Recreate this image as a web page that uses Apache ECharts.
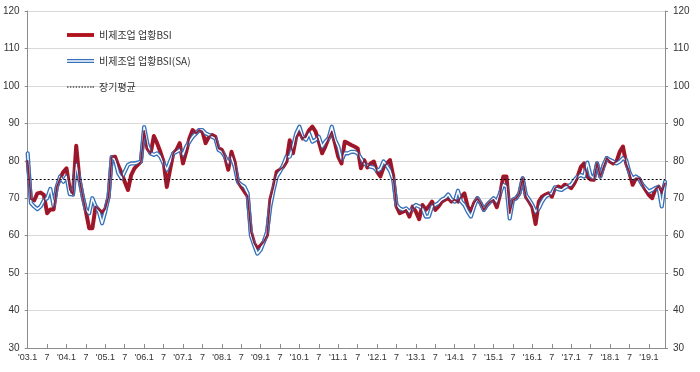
<!DOCTYPE html>
<html>
<head>
<meta charset="utf-8">
<script src="https://cdn.jsdelivr.net/npm/echarts@6/dist/echarts.min.js"></script>
<style>
html,body{margin:0;padding:0;background:#fff;}
#chart{width:700px;height:372px;}
</style>
</head>
<body>
<div id="chart"></div>
<script>
// ---- data (monthly, 2003.1 - 2019.6) ----
const startYear = 2003;
const monthCount = 198;
const seriesNames = ['비제조업 업황BSI', '비제조업 업황BSI(SA)', '장기평균'];
const longTermAvg = 75;

const bsi = [
  80, 69.7, 69.4, 71.3, 71.5, 70.9, 66, 67, 67, 73, 75.3, 77,
  78, 72.4, 71, 84, 75, 70.5, 66.5, 62, 62, 67.8, 66.9, 66,
  67.1, 70.4, 81, 81.1, 78.7, 76.7, 74.4, 72.2, 76.2, 78, 78.9, 79.8,
  88, 83.3, 82, 86.6, 84.7, 82.4, 79.8, 73, 77.6, 82, 82.9, 84.7,
  79.3, 82.4, 86, 88.2, 87.3, 88.2, 87.8, 84.7, 86.4, 86.9, 86.4, 83.3,
  82.9, 81.1, 77.6, 82.4, 79.6, 74.4, 73.1, 71.8, 70.6, 61, 58, 56.5,
  57.3, 58.4, 60.2, 69.6, 73.1, 77.1, 77.6, 78.4, 79.8, 85.5, 82, 86.4,
  87.8, 86, 86.4, 88.2, 89.1, 87.8, 85.1, 82, 83.8, 86, 87.8, 84.7,
  81.1, 79.3, 85.1, 84.7, 84.2, 83.8, 83.3, 78, 80.2, 78.2, 79.3, 79.8,
  77.1, 75.8, 78.2, 79.3, 80.2, 75.8, 67.8, 66, 66.4, 66.9, 65.1, 67.8,
  66.4, 64.4, 68.2, 66.9, 67.8, 69.1, 66.9, 67.8, 69.1, 69.6, 70, 69.1,
  69.6, 69.1, 70.4, 71.3, 67.8, 66.4, 68.7, 70, 68.7, 66.9, 68.2, 69.1,
  69.6, 67.6, 70.9, 75.8, 75.8, 66, 69.6, 70, 71.3, 75.3, 70.4, 69.1,
  67.6, 63.1, 69.1, 70.4, 70.9, 71.3, 70.4, 72.7, 73.1, 72.7, 73.6, 73.3,
  72.7, 74, 75.8, 78.4, 79.3, 75.8, 75, 74.9, 79.3, 75.8, 78.4, 80.7,
  79.8, 79.3, 79.8, 82.4, 83.8, 79.3, 76.9, 73.6, 75.3, 75.3, 73.6, 72.2,
  70.9, 70, 72.4, 73.1, 71.3, 74
];

const bsiSA = [
  82, 68.7, 67.8, 67.1, 67.8, 69.4, 70, 72.5, 68, 73, 75.8, 74.4,
  75.8, 71.1, 71, 79, 75, 70.5, 66.9, 66, 70, 67.8, 66.4, 63.3,
  66.5, 70.4, 81, 80.2, 76.7, 75.3, 77.1, 78.9, 79.3, 79.3, 79.5, 79.8,
  89, 84.5, 82, 81.6, 82, 81.1, 79.3, 77.6, 79.8, 82, 82.4, 82.9,
  81.6, 83.8, 85.1, 86.4, 87.3, 88.2, 88.2, 87.3, 86.9, 86.4, 86, 82.9,
  82.4, 81.1, 79.3, 81.1, 78.4, 74.4, 73.6, 73.1, 71.3, 60, 57.5, 55.2,
  56.2, 58.4, 61.1, 67.8, 72.2, 75.8, 77.1, 78.9, 81.1, 81.1, 83.8, 87.3,
  89.1, 86.4, 85.6, 87.3, 85.1, 85.6, 86.4, 83.8, 85.1, 86, 89.1, 85.6,
  83.8, 80.2, 82, 82, 82.4, 82.4, 82, 80.7, 79.3, 78.7, 78.4, 78.2,
  77.3, 77.8, 79.8, 78.7, 77.3, 74.9, 68.2, 67.3, 66.9, 67.3, 66.4, 67.3,
  68.2, 67.8, 67.3, 65.1, 65.1, 67.8, 68.2, 68.7, 69.6, 70, 71, 69.6,
  69.1, 72, 69.1, 68.2, 66.4, 65.1, 67.8, 70, 68.7, 66.9, 68.2, 69.1,
  70, 69.1, 71.3, 73.6, 73.1, 64.6, 69.6, 70, 71.3, 75.3, 70.9, 69.6,
  68.2, 66.4, 67.3, 69.1, 70.4, 70.9, 71.3, 72.9, 72.4, 72.2, 72.8, 73.3,
  73.6, 74.9, 75.8, 76.2, 75.8, 79.5, 76, 75.3, 79.3, 75.8, 78.9, 80.7,
  80.2, 79.8, 79.3, 79.8, 80.7, 80.2, 76.9, 75.3, 75.8, 75.1, 73.6, 72.7,
  71.8, 72.2, 72.7, 72.9, 67.8, 74.4
];

const yTicks = [30, 40, 50, 60, 70, 80, 90, 100, 110, 120];

// month categories, e.g. "2003.1"
const categories = [];
for (let i = 0; i < monthCount; i++) {
  const y = startYear + Math.floor(i / 12);
  const m = (i % 12) + 1;
  categories.push(y + '.' + m);
}
function tickLabel(v) {
  const parts = v.split('.');
  if (parts[1] === '1') return "'" + parts[0].slice(2) + '.1';
  if (parts[1] === '7') return '7';
  return '';
}

const RED = '#b0121c';
const BLUE = '#3672ba';
const FONT = 'Liberation Sans';

const chart = echarts.init(document.getElementById('chart'), null, {renderer: 'canvas'});

const yAxisCommon = {
  type: 'value',
  min: yTicks[0],
  max: yTicks[yTicks.length - 1],
  interval: 10,
  axisLine: {show: true, lineStyle: {color: '#8c8c8c', width: 1}},
  axisTick: {show: true, length: 3, lineStyle: {color: '#8c8c8c'}},
  axisLabel: {color: '#333', fontSize: 10, fontFamily: FONT},
};

chart.setOption({
  animation: false,
  backgroundColor: '#fff',
  grid: {left: 25, right: 35, top: 11, bottom: 24, containLabel: false},
  legend: {
    orient: 'vertical',
    left: 62,
    top: 25,
    itemGap: 16,
    itemWidth: 27,
    itemHeight: 4,
    symbolKeepAspect: true,
    selectedMode: false,
    textStyle: {color: '#333', fontSize: 10, fontFamily: 'Noto Sans CJK KR'},
    data: [
      {name: seriesNames[0], icon: 'path://M0,0H28V4H0Z', itemStyle: {color: RED}},
      {name: seriesNames[1], icon: 'path://M0,0H28V1.2H0Z M0,2.8H28V4H0Z', itemStyle: {color: BLUE}},
      {name: seriesNames[2], icon: 'path://M0,0H1.5V1H0Z M3,0H4.5V1H3Z M6,0H7.5V1H6Z M9,0H10.5V1H9Z M12,0H13.5V1H12Z M15,0H16.5V1H15Z M18,0H19.5V1H18Z M21,0H22.5V1H21Z M24,0H25.5V1H24Z M26.5,0H28V1H26.5Z', itemStyle: {color: '#000'}}
    ]
  },
  xAxis: {
    type: 'category',
    data: categories,
    boundaryGap: false,
    axisLine: {show: true, lineStyle: {color: '#8c8c8c', width: 1}},
    axisTick: {show: true, inside: true, length: 4, interval: 5, lineStyle: {color: '#8c8c8c'}},
    axisLabel: {
      interval: 5,
      color: '#333',
      fontSize: 9,
      fontFamily: FONT,
      margin: 5,
      formatter: tickLabel
    },
    splitLine: {show: false}
  },
  yAxis: [
    Object.assign({}, yAxisCommon, {
      position: 'left',
      splitLine: {show: true, lineStyle: {color: '#d9d9d9', width: 1}}
    }),
    Object.assign({}, yAxisCommon, {
      position: 'right',
      splitLine: {show: false}
    })
  ],
  series: [
    {
      name: seriesNames[2],
      type: 'line',
      data: [],
      color: '#000',
      z: 1,
      markLine: {
        silent: true,
        symbol: 'none',
        label: {show: false},
        lineStyle: {color: '#000', type: [2, 2], width: 1},
        data: [{yAxis: longTermAvg}]
      }
    },
    {
      name: seriesNames[0],
      type: 'line',
      data: bsi,
      color: RED,
      symbol: 'none',
      z: 2,
      lineStyle: {width: 4, color: RED, join: 'round', cap: 'round'}
    },
    {
      name: seriesNames[1],
      type: 'line',
      data: bsiSA,
      color: BLUE,
      symbol: 'none',
      z: 3,
      lineStyle: {width: 4.2, color: BLUE, join: 'round', cap: 'round'}
    },
    {
      name: 'SA-inner',
      type: 'line',
      data: bsiSA,
      color: '#fff',
      symbol: 'none',
      z: 4,
      lineStyle: {width: 1.5, color: '#fff', join: 'round', cap: 'round'}
    },
    {
      name: 'BSI-core',
      type: 'line',
      data: bsi,
      color: '#7a2a5a',
      symbol: 'none',
      z: 5,
      lineStyle: {width: 1.6, color: '#8a1c3a', join: 'round', cap: 'round'}
    }
  ]
});
</script>
</body>
</html>
